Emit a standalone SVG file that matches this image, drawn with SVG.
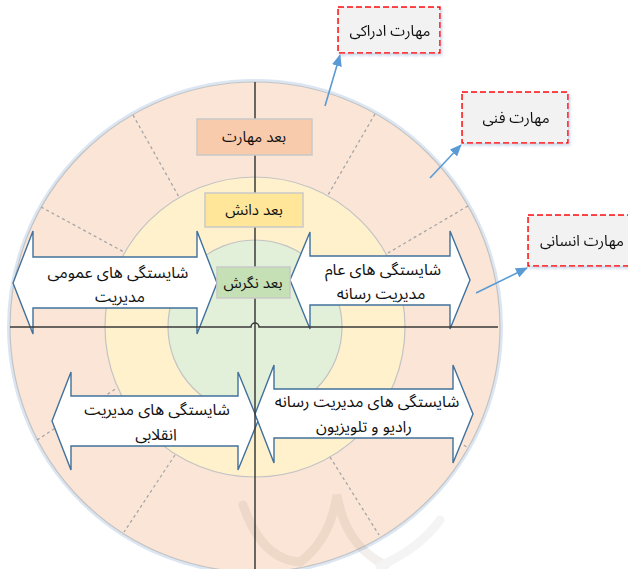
<svg xmlns="http://www.w3.org/2000/svg" width="628" height="569" viewBox="0 0 628 569">
<defs>
<style>
.ring{stroke:#c3c3c3;stroke-width:1.2}
.dash{stroke:#a6a6a6;stroke-width:1.3;stroke-dasharray:3 3;fill:none}
.axis{stroke:#3a3a3a;stroke-width:1.5;fill:none}
.dbl{fill:#ffffff;stroke:#41719c;stroke-width:1.4;stroke-linejoin:miter}
.lbl{stroke:#c9c9c9;stroke-width:1.5}
.skill{fill:#f2f2f2;stroke:#ff0000;stroke-width:1.5;stroke-dasharray:6 3}
.conn{stroke:#5b9bd5;stroke-width:1.6;fill:none}
text{font-family:"Noto Sans Arabic","DejaVu Sans",sans-serif;fill:#111;text-anchor:middle;direction:rtl}
.t16{font-size:16px}
.t15{font-size:15px}
</style>
<marker id="ah" markerWidth="12" markerHeight="10" refX="11" refY="5" orient="auto" markerUnits="userSpaceOnUse">
<path d="M0,0 L12,5 L0,10 Z" fill="#5b9bd5"/>
</marker>
<filter id="sh" x="-10%" y="-10%" width="130%" height="140%">
<feDropShadow dx="1.5" dy="2" stdDeviation="1.5" flood-color="#9db8d6" flood-opacity="0.55"/>
</filter>
</defs>

<g id="background">
<circle cx="255" cy="327" r="246.5" fill="none" stroke="#dbe6f2" stroke-width="3"/>
<circle id="ring-skill" class="ring" cx="255" cy="327" r="245" fill="#fae5d7"/>
<circle id="ring-knowledge" class="ring" cx="255" cy="327" r="150" fill="#fff1cc"/>
<circle id="ring-attitude" class="ring" cx="255" cy="327" r="87" fill="#e2efd9"/>
<g id="watermark" fill="none" stroke-linecap="round" opacity="0.1">
<path d="M243,505 Q262,560 300,562 Q330,540 337,495 Q345,545 385,565" stroke="#8a6a50" stroke-width="9"/>
<path d="M440,520 Q420,548 380,566" stroke="#999" stroke-width="9"/>
</g>
<g id="sector-lines">
<line class="dash" x1="133" y1="115" x2="179" y2="197"/>
<line class="dash" x1="41" y1="207" x2="124" y2="252"/>
<line class="dash" x1="375" y1="114" x2="328" y2="195"/>
<line class="dash" x1="468" y1="206" x2="388" y2="253"/>
<line class="dash" x1="330" y1="457" x2="379" y2="535"/>
<line class="dash" x1="385" y1="402" x2="467" y2="447"/>
<line class="dash" x1="175" y1="455" x2="124" y2="532"/>
<line class="dash" x1="37" y1="440" x2="117" y2="388"/>
</g>
</g>

<g id="competencies">
<g id="arrow-general">
<polygon class="dbl" points="13,283 33,231 33,257 197,257 197,231 217,283 197,334 197,308 33,308 33,334"/>
<text class="t16" x="118" y="278">شایستگی های عمومی</text>
<text class="t16" x="120" y="302">مدیریت</text>
</g>
<g id="arrow-media-general">
<polygon class="dbl" points="290,280 310,232 310,256 450,256 450,231 470,280 450,329 450,305 310,305 310,329"/>
<text class="t16" x="383" y="275">شایستگی های عام</text>
<text class="t16" x="381" y="299">مدیریت رسانه</text>
</g>
<g id="arrow-revolutionary">
<polygon class="dbl" points="52,421 71,372 71,396 238,396 238,372 258,421 238,470 238,446 71,446 71,470"/>
<text class="t16" x="157" y="415">شایستگی های مدیریت</text>
<text class="t16" x="156" y="440">انقلابی</text>
</g>
<g id="arrow-radio-tv">
<polygon class="dbl" points="255,414 274,365 274,389 453,389 453,365 473,414 453,463 453,438 274,438 274,463"/>
<text class="t16" x="367" y="407">شایستگی های مدیریت رسانه</text>
<text class="t16" x="364" y="432">رادیو و تلویزیون</text>
</g>
</g>

<g id="axes">
<path class="axis" d="M255,82 V569"/>
<path class="axis" d="M10,327 H251 A4,4 0 0 1 259,327 H498"/>
</g>

<g id="node-skill">
<rect class="lbl" x="197" y="119" width="115" height="36" fill="#f8cbad"/>
<text class="t15" x="254" y="142">بعد مهارت</text>
</g>
<g id="node-knowledge">
<rect class="lbl" x="205" y="193" width="98" height="34" fill="#ffe699"/>
<text class="t15" x="254" y="215">بعد دانش</text>
</g>
<g id="node-attitude">
<rect class="lbl" x="217" y="267" width="73" height="31" fill="#c5e0b4"/>
<text class="t15" x="253" y="288">بعد نگرش</text>
</g>

<g id="connectors">
<line class="conn" x1="325" y1="106" x2="340" y2="55" marker-end="url(#ah)"/>
<line class="conn" x1="430" y1="178" x2="461" y2="145" marker-end="url(#ah)"/>
<line class="conn" x1="476" y1="293" x2="527" y2="268" marker-end="url(#ah)"/>
</g>

<g id="node-conceptual" filter="url(#sh)">
<rect class="skill" x="338" y="7" width="102" height="46"/>
<text class="t15" x="390" y="36">مهارت ادراکی</text>
</g>
<g id="node-technical" filter="url(#sh)">
<rect class="skill" x="462" y="92" width="106" height="51"/>
<text class="t15" x="516" y="123">مهارت فنی</text>
</g>
<g id="node-human" filter="url(#sh)">
<rect class="skill" x="528" y="215" width="106" height="51"/>
<text class="t15" x="582" y="246">مهارت انسانی</text>
</g>
</svg>
